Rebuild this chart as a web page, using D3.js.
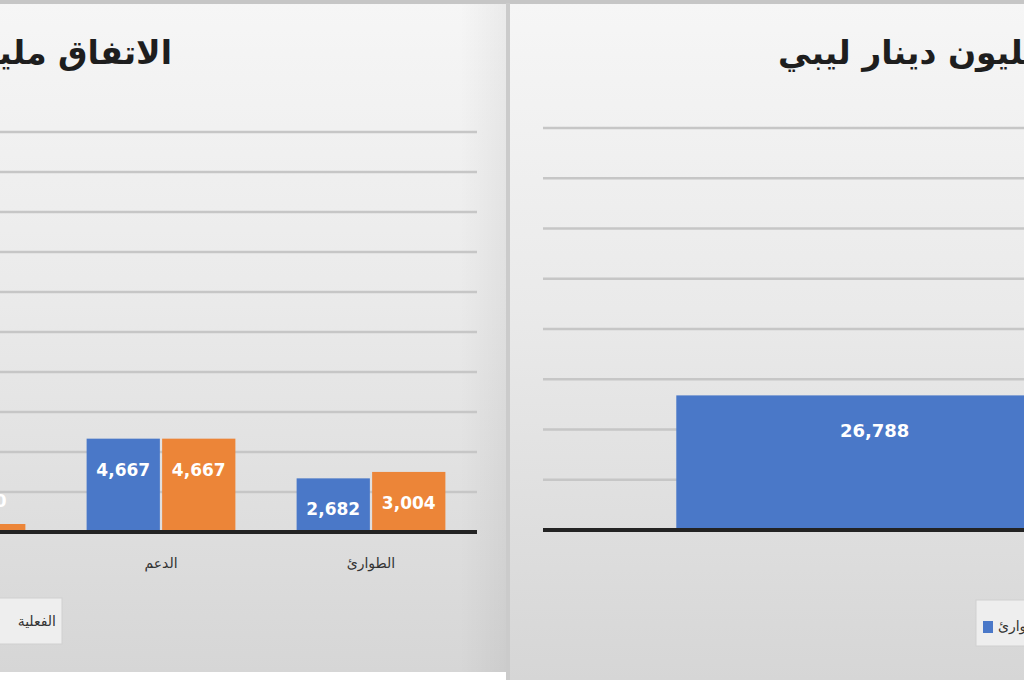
<!DOCTYPE html>
<html>
<head>
<meta charset="utf-8">
<script src="https://cdn.jsdelivr.net/npm/d3@7"></script>
<style>
  body { margin: 0; background: #ffffff; }
  svg { display: block; }
</style>
</head>
<body>
<svg id="chart" width="1024" height="680"></svg>
<script>
// left chart data
let leftCategories = ["المرتبات", "الدعم", "الطوارئ"];
let leftSeries = ["المعتمدة", "الفعلية"];
let leftBlue = [420, 4667, 2682];
let leftOrange = [400, 4667, 3004];
let leftTicks = [0, 2000, 4000, 6000, 8000, 10000, 12000, 14000, 16000, 18000, 20000];

// right chart data (orange bar lies past the right edge of the photo)
let rightCategories = ["الإجمالي"];
let rightSeries = ["الطوارئ", "الفعلية"];
let rightBlue = [26788];
let rightOrange = [27000];
let rightTicks = [0, 10000, 20000, 30000, 40000, 50000, 60000, 70000, 80000];

let blueColor = "#4a78c8";
let orangeColor = "#ec8538";
let gridColor = "#c6c6c6";
let axisColor = "#232323";
let labelFont = "DejaVu Sans, sans-serif";

let svg = d3.select("#chart");
let fmt = d3.format(",");

let defs = svg.append("defs");
let grad = defs.append("linearGradient")
  .attr("id", "bg")
  .attr("x1", 0).attr("y1", 0).attr("x2", 0).attr("y2", 1);
grad.append("stop").attr("offset", "0%").attr("stop-color", "#f6f6f6");
grad.append("stop").attr("offset", "45%").attr("stop-color", "#eaeaea");
grad.append("stop").attr("offset", "100%").attr("stop-color", "#d6d6d6");

let side = defs.append("linearGradient")
  .attr("id", "edge")
  .attr("x1", 0).attr("y1", 0).attr("x2", 1).attr("y2", 0);
side.append("stop").attr("offset", "0%").attr("stop-color", "#000").attr("stop-opacity", 0);
side.append("stop").attr("offset", "100%").attr("stop-color", "#000").attr("stop-opacity", 0.05);

// panels
svg.append("rect").attr("x", 0).attr("y", 0).attr("width", 1024).attr("height", 680).attr("fill", "#ffffff");
svg.append("rect").attr("x", 0).attr("y", 3).attr("width", 509).attr("height", 669).attr("fill", "url(#bg)");
svg.append("rect").attr("x", 509).attr("y", 3).attr("width", 515).attr("height", 677).attr("fill", "url(#bg)");
svg.append("rect").attr("x", 460).attr("y", 3).attr("width", 49).attr("height", 669).attr("fill", "url(#edge)");
svg.append("rect").attr("x", 0).attr("y", 0).attr("width", 1024).attr("height", 4).attr("fill", "#c6c6c6");
svg.append("rect").attr("x", 506).attr("y", 3).attr("width", 4).attr("height", 677).attr("fill", "#cbcbcb");

function drawPanel(opts) {
  let y = d3.scaleLinear()
    .domain([0, d3.max(opts.ticks)])
    .range([opts.baseY, opts.topY]);

  let x0 = d3.scaleBand()
    .domain(opts.categories)
    .range(opts.xRange)
    .paddingInner(opts.padInner)
    .paddingOuter(opts.padOuter);

  let x1 = d3.scaleBand()
    .domain(opts.series)
    .range([0, x0.bandwidth()])
    .padding(opts.barPad);

  let g = svg.append("g");

  // gridlines
  g.selectAll(".grid")
    .data(opts.ticks.slice(1))
    .enter().append("line")
    .attr("x1", opts.gridX[0])
    .attr("x2", opts.gridX[1])
    .attr("y1", d => y(d))
    .attr("y2", d => y(d))
    .style("stroke", gridColor)
    .style("stroke-width", 2.5);

  let rows = opts.categories.map((c, i) => ({
    cat: c,
    vals: opts.series.map((s, j) => ({ s: s, v: opts.values[j][i], color: opts.colors[j] }))
  }));

  let groups = g.selectAll(".grp")
    .data(rows)
    .enter().append("g")
    .attr("transform", d => "translate(" + x0(d.cat) + ",0)");

  groups.selectAll("rect")
    .data(d => d.vals)
    .enter().append("rect")
    .attr("x", d => x1(d.s))
    .attr("width", x1.bandwidth())
    .attr("y", d => y(d.v))
    .attr("height", d => opts.baseY - y(d.v))
    .attr("fill", d => d.color);

  // value labels
  groups.selectAll(".val")
    .data(d => d.vals)
    .enter().append("text")
    .attr("x", d => x1(d.s) + x1.bandwidth() / 2)
    .attr("y", d => {
      let h = opts.baseY - y(d.v);
      return h < 40 ? y(d.v) - 22 : y(d.v) + opts.labelOffset;
    })
    .text(d => fmt(d.v))
    .style("fill", "#ffffff")
    .style("text-anchor", "middle")
    .style("dominant-baseline", "middle")
    .style("font-family", labelFont)
    .style("font-weight", "bold")
    .style("font-size", opts.labelSize + "px");

  // baseline
  g.append("line")
    .attr("x1", opts.gridX[0])
    .attr("x2", opts.gridX[1])
    .attr("y1", opts.baseY)
    .attr("y2", opts.baseY)
    .style("stroke", axisColor)
    .style("stroke-width", 4);

  // category labels
  g.selectAll(".cat")
    .data(opts.categories)
    .enter().append("text")
    .attr("x", d => x0(d) + x0.bandwidth() / 2)
    .attr("y", opts.baseY + 32)
    .text(d => d)
    .style("fill", "#333333")
    .style("text-anchor", "middle")
    .style("dominant-baseline", "middle")
    .style("font-family", labelFont)
    .style("font-size", "14px");

  // title
  svg.append("text")
    .attr("x", opts.titleX)
    .attr("y", 64)
    .text(opts.title)
    .style("fill", "#1e1e1e")
    .style("text-anchor", opts.titleAnchor)
    .style("font-family", labelFont)
    .style("font-weight", "bold")
    .style("font-size", "33px");
}

drawPanel({
  categories: leftCategories,
  series: leftSeries,
  values: [leftBlue, leftOrange],
  colors: [blueColor, orangeColor],
  ticks: leftTicks,
  baseY: 532,
  topY: 132,
  xRange: [-154, 476],
  padInner: 0.27,
  padOuter: 0.135,
  barPad: 0.03,
  gridX: [0, 477],
  labelOffset: 32,
  labelSize: 17,
  title: "الاتفاق مليون دينار ليبي",
  titleX: 172,
  titleAnchor: "end"
});

drawPanel({
  categories: rightCategories,
  series: rightSeries,
  values: [rightBlue, rightOrange],
  colors: [blueColor, orangeColor],
  ticks: rightTicks,
  baseY: 530,
  topY: 128,
  xRange: [543, 1603],
  padInner: 0,
  padOuter: 0.168,
  barPad: 0,
  gridX: [543, 1024],
  labelOffset: 37,
  labelSize: 18,
  title: "الاتفاق مليون دينار ليبي",
  titleX: 778,
  titleAnchor: "start"
});

// legends
let legL = svg.append("g");
legL.append("rect")
  .attr("x", -40).attr("y", 598).attr("width", 102).attr("height", 46)
  .attr("fill", "#eeeeee").attr("stroke", "#d0d0d0");
legL.append("text")
  .attr("x", 56).attr("y", 622)
  .text(leftSeries[1])
  .style("fill", "#333333")
  .style("text-anchor", "end")
  .style("dominant-baseline", "middle")
  .style("font-family", labelFont)
  .style("font-size", "14px");

let legR = svg.append("g");
legR.append("rect")
  .attr("x", 976).attr("y", 600).attr("width", 80).attr("height", 46)
  .attr("fill", "#eeeeee").attr("stroke", "#d0d0d0");
legR.append("rect")
  .attr("x", 983).attr("y", 621).attr("width", 10).attr("height", 12)
  .attr("fill", blueColor);
legR.append("text")
  .attr("x", 998).attr("y", 627)
  .text(rightSeries[0])
  .style("fill", "#333333")
  .style("text-anchor", "start")
  .style("dominant-baseline", "middle")
  .style("font-family", labelFont)
  .style("font-size", "14px");
</script>
</body>
</html>
